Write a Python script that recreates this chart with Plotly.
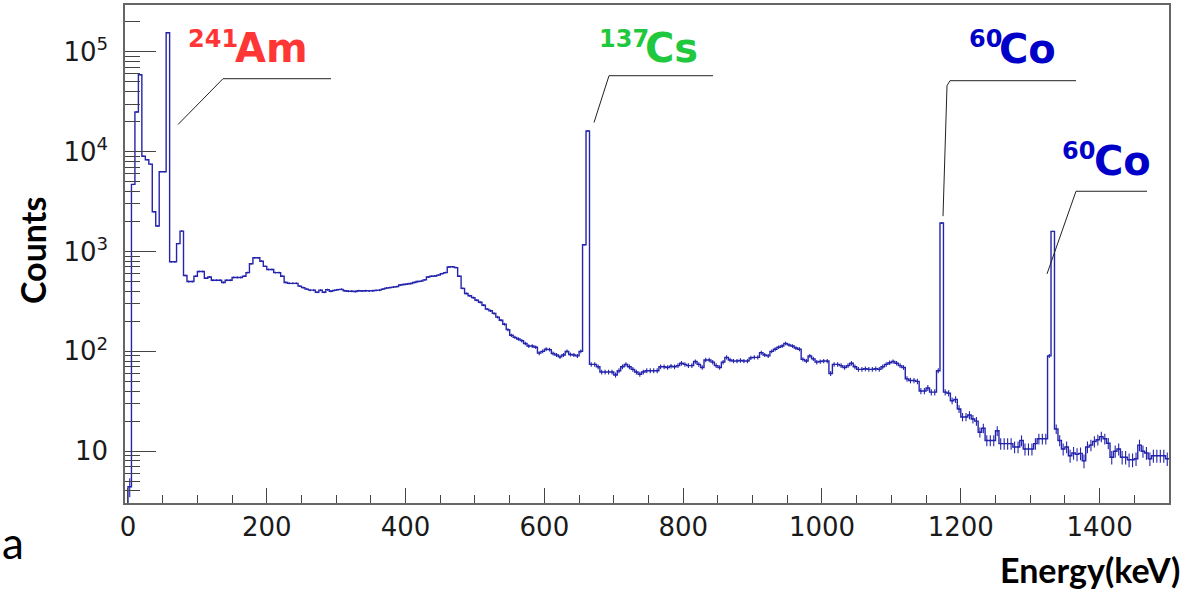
import numpy as np
import plotly.graph_objects as go

# ---------------- data ----------------
bin_width_kev = 5
energy_start_kev = 0
# counts per 5 keV bin, 0 .. 1500 keV (rows of 10 bins = 50 keV)
counts = [
    4.4, 4700, 25000, 59000, 9000, 8300, 7500, 2500, 1800, 6300,      # 0-45
    6300, 155000, 790, 790, 1200, 1600, 575, 500, 500, 565,           # 50-95
    630, 630, 540, 555, 515, 515, 515, 490, 515, 515,                 # 100-145
    550, 550, 550, 565, 615, 755, 865, 865, 800, 710,                 # 150-195
    660, 660, 615, 615, 565, 490, 480, 480, 480, 450,                 # 200-245
    435, 420, 410, 410, 390, 410, 390, 415, 400, 408,                 # 250-295
    415, 418, 405, 400, 400, 398, 405, 402, 405, 403,                 # 300-345
    405, 408, 410, 420, 430, 435, 440, 445, 462, 468,                 # 350-395
    472, 478, 490, 500, 505, 520, 555, 565, 568, 580,                 # 400-445
    600, 615, 700, 705, 690, 565, 427, 380, 360, 345,                 # 450-495
    325, 310, 290, 265, 255, 240, 220, 205, 187, 165,                 # 500-545
    145, 138, 133, 128, 120, 113, 113, 110, 96, 100,                  # 550-595
    105, 104, 95, 92, 88, 92, 100, 93, 92, 90,                        # 600-645
    100, 1170, 16100, 74, 74, 70, 62, 62, 62, 62,                     # 650-695
    58, 64, 70, 74, 70, 66, 62, 59, 62, 64,                           # 700-745
    64, 64, 64, 70, 70, 69, 71, 70, 72, 76,                           # 750-795
    74, 72, 72, 79, 74, 69, 82, 82, 78, 72,                           # 800-845
    69, 78, 87, 82, 80, 80, 81, 80, 80, 86,                           # 850-895
    87, 87, 97, 92, 90, 100, 105, 110, 113, 120,                      # 900-945
    116, 113, 108, 105, 83, 80, 90, 84, 78, 79,                       # 950-995
    80, 80, 60, 74, 74, 72, 69, 72, 76, 70,                           # 1000-1045
    66, 66, 67, 66, 66, 67, 66, 70, 74, 77,                           # 1050-1095
    79, 76, 72, 69, 53, 51, 51, 50, 40, 40,                           # 1100-1145
    43, 39, 39, 64, 1930, 39, 38, 32, 33, 26.5,                       # 1150-1195
    22, 22, 23, 21, 20, 15.5, 17, 12.8, 12.8, 12.8,                   # 1200-1245
    16, 11.9, 11.9, 11.9, 11.9, 11, 11, 12.8, 10.5, 10.5,             # 1250-1295
    10.5, 11.9, 13.3, 13.3, 13.3, 90, 1590, 16.7, 12.8, 10.5,         # 1300-1345
    11, 9, 9.6, 9.3, 9.5, 8, 11, 11.5, 12.5, 13,                      # 1350-1395
    14, 13.3, 12, 8.7, 10, 10.5, 8.7, 8.7, 8.2, 8.2,                  # 1400-1445
    8.4, 11.5, 10, 9.6, 8.4, 9, 9, 9, 9, 8.4,                         # 1450-1495
]
x_tick_step = 200
x_minor_step = 50
y_major_vals = [10, 100, 1000, 10000, 100000]
y_major_text = ["10", "10<sup>2</sup>", "10<sup>3</sup>", "10<sup>4</sup>", "10<sup>5</sup>"]
peak_labels = [  # (mass number, element, colour)
    ("241", "Am", "#ff3636"),
    ("137", "Cs", "#1fc83c"),
    ("60", "Co", "#0000c8"),
    ("60", "Co", "#0000c8"),
]

# ---------------- derived ----------------
counts = np.array(counts, dtype=float)
edges = energy_start_kev + bin_width_kev * np.arange(len(counts) + 1)
centers = edges[:-1] + bin_width_kev / 2
errors = 0.45 * np.sqrt(counts)

X_RANGE = [-4.3, 1500]
Y_RANGE = [0.481, 5.469]  # log10
y_floor = 10 ** (Y_RANGE[0] - 1)

step_x = np.concatenate([[edges[0]], edges])
step_y = np.concatenate([[y_floor], counts, [counts[-1]]])

minor_y = [m * 10 ** k for k in range(0, 6) for m in range(2, 10)
           if Y_RANGE[0] < np.log10(m * 10 ** k) < Y_RANGE[1]]

LINE = "#2424ac"

fig = go.Figure()
fig.add_trace(go.Scatter(x=step_x, y=step_y, mode="lines", line_shape="hv",
                         line=dict(color=LINE, width=1.4), hoverinfo="skip",
                         showlegend=False))
fig.add_trace(go.Scatter(x=centers, y=counts, mode="markers",
                         marker=dict(size=1.5, color=LINE),
                         error_y=dict(type="data", array=errors, visible=True,
                                      thickness=1.1, width=0, color=LINE),
                         showlegend=False))

# ---------------- layout helpers (pixel -> paper) ----------------
W, H = 1191, 591
L, R, T, B = 125, 22, 3, 88
PW, PH = W - L - R, H - T - B


def px(x):
    return (x - L) / PW


def py(y):
    return (H - B - y) / PH


tickfont = dict(family="DejaVu Sans", size=26, color="#1a1a1a")
fig.update_layout(
    width=W, height=H, margin=dict(l=L, r=R, t=T, b=B),
    paper_bgcolor="white", plot_bgcolor="white",
    xaxis=dict(range=X_RANGE, tick0=0, dtick=x_tick_step, ticks="inside",
               ticklen=15, tickwidth=1, tickcolor="#444", showline=True,
               linecolor="#666", linewidth=1.5, mirror=True, showgrid=False,
               zeroline=False, tickfont=tickfont, ticklabelstandoff=0,
               minor=dict(ticks="inside", ticklen=8, tick0=0,
                          dtick=x_minor_step, tickcolor="#444", tickwidth=1)),
    yaxis=dict(type="log", range=Y_RANGE, tickmode="array",
               tickvals=y_major_vals, ticktext=y_major_text, ticks="inside",
               ticklen=31, tickwidth=1, tickcolor="#444", showline=True,
               linecolor="#666", linewidth=1.5, mirror=True, showgrid=False,
               zeroline=False, tickfont=tickfont, ticklabelstandoff=10,
               minor=dict(ticks="inside", ticklen=15, tickmode="array",
                          tickvals=minor_y, tickcolor="#444", tickwidth=1)),
)

# ---------------- peak labels ----------------
label_pos = [  # (sup left, sup center y, sym left, sym center y) in pixels
    (186, 37, 233, 46),
    (597, 37, 643, 46),
    (967, 37, 997, 47),
    (1060, 150, 1092, 160),
]
for (mass, sym, col), (sx, sy, ex, ey) in zip(peak_labels, label_pos):
    fig.add_annotation(x=px(sx), y=py(sy), xref="paper", yref="paper",
                       text=mass, showarrow=False, xanchor="left",
                       yanchor="middle",
                       font=dict(family="DejaVu Sans", size=24, color=col,
                                 weight="bold"))
    fig.add_annotation(x=px(ex), y=py(ey), xref="paper", yref="paper",
                       text=sym, showarrow=False, xanchor="left",
                       yanchor="middle",
                       font=dict(family="DejaVu Sans", size=40, color=col,
                                 weight="bold"))

leaders = [  # polyline points in pixels
    [(178, 123), (223, 77), (331, 77)],
    [(594, 121), (609, 74), (713, 74)],
    [(943, 215), (947, 84), (950, 79), (1076, 79)],
    [(1047, 273), (1076, 190), (1147, 190)],
]
for pts in leaders:
    for (x0, y0), (x1, y1) in zip(pts[:-1], pts[1:]):
        fig.add_shape(type="line", xref="paper", yref="paper",
                      x0=px(x0), y0=py(y0), x1=px(x1), y1=py(y1),
                      line=dict(color="#222", width=1))

# ---------------- axis titles ----------------
fig.add_annotation(x=px(32), y=py(250), xref="paper", yref="paper",
                   text="Counts", textangle=-90, showarrow=False,
                   xanchor="center", yanchor="middle",
                   font=dict(family="Lato", size=34, color="black",
                             weight="bold"))
fig.add_annotation(x=px(1182), y=py(570), xref="paper", yref="paper",
                   text="Energy(keV)", showarrow=False,
                   xanchor="right", yanchor="middle",
                   font=dict(family="Lato", size=34, color="black",
                             weight="bold"))
fig.add_annotation(x=px(0), y=py(542), xref="paper", yref="paper",
                   text="a", showarrow=False, xanchor="left",
                   yanchor="middle",
                   font=dict(family="Lato", size=44, color="black"))

fig.write_html("out.html")
